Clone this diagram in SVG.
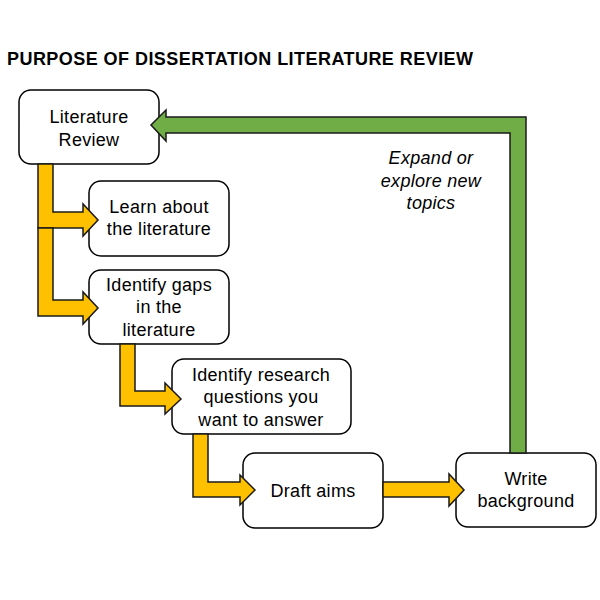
<svg xmlns="http://www.w3.org/2000/svg" width="600" height="600" viewBox="0 0 600 600">
<style>
.box{fill:#fff;stroke:#000;stroke-width:1.5}
.t{font-family:"Liberation Sans",Arial,sans-serif;font-size:18px;letter-spacing:0.3px;fill:#000;text-anchor:middle}
.it{font-style:italic}
.ya{fill:#FFC000;stroke:#1a1a1a;stroke-width:1.5;stroke-linejoin:miter}
.ga{fill:#70AD47;stroke:#1a1a1a;stroke-width:1.5}
</style>
<rect width="600" height="600" fill="#fff"/>
<text x="7" y="65" font-family="'Liberation Sans',Arial,sans-serif" font-weight="bold" font-size="18" letter-spacing="0.45" fill="#000">PURPOSE OF DISSERTATION LITERATURE REVIEW</text>
<g id="n1"><rect class="box" x="19" y="90" width="140" height="74" rx="12"/><text class="t" x="89" y="123">Literature</text><text class="t" x="89" y="146">Review</text></g>
<g id="n2"><rect class="box" x="89" y="181" width="140" height="75" rx="12"/><text class="t" x="159" y="213">Learn about</text><text class="t" x="159" y="235">the literature</text></g>
<g id="n3"><rect class="box" x="89" y="270" width="140" height="74" rx="12"/><text class="t" x="159" y="291">Identify gaps</text><text class="t" x="159" y="313">in the</text><text class="t" x="159" y="336">literature</text></g>
<g id="n4"><rect class="box" x="172" y="359" width="179" height="75" rx="12"/><text class="t" x="261" y="381">Identify research</text><text class="t" x="261" y="403">questions you</text><text class="t" x="261" y="426">want to answer</text></g>
<g id="n5"><rect class="box" x="243" y="453" width="140" height="75" rx="12"/><text class="t" x="313" y="497">Draft aims</text></g>
<g id="n6"><rect class="box" x="456" y="453" width="140" height="74" rx="12"/><text class="t" x="526" y="485">Write</text><text class="t" x="526" y="507">background</text></g>
<g id="connectors">
<polygon class="ya" points="38,164 53,164 53,212 83,212 83,204 98,220 83,236 83,228 38,228"/>
<polygon class="ya" points="38,228 53,228 53,300 83,300 83,292 98,308 83,324 83,316 38,316"/>
<polygon class="ya" points="120,344 135,344 135,391 165,391 165,383 181,399 165,414 165,406 120,406"/>
<polygon class="ya" points="193,434 208,434 208,482 240,482 240,475 255,490 240,505 240,497 193,497"/>
<polygon class="ya" points="383,482 449,482 449,474 464,490 449,506 449,497 383,497"/>
<polygon class="ga" points="526,453 526,117 166,117 166,110 151,125 166,141 166,133 510,133 510,453"/>
<text class="t it" x="431" y="164">Expand or</text>
<text class="t it" x="431" y="187">explore new</text>
<text class="t it" x="431" y="209">topics</text>
</g>
</svg>
